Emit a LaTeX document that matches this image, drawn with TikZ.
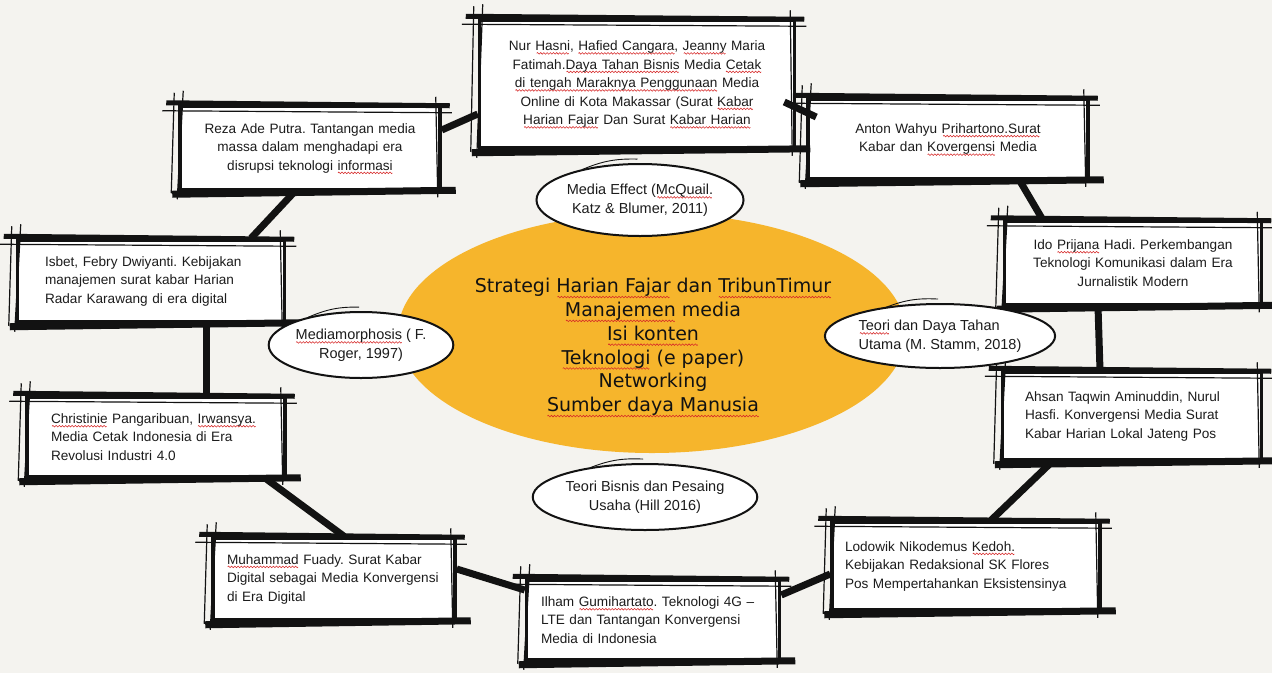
\documentclass[tikz,border=0pt]{standalone}
\usepackage{fontspec}
\setmainfont{Liberation Sans}
\newfontfamily\handfont{DejaVu Sans}
\usetikzlibrary{shapes.geometric, positioning, calc}
\definecolor{paper}{RGB}{244,243,239}
\definecolor{coreorange}{RGB}{246,181,44}
\definecolor{ink}{RGB}{18,18,18}
\definecolor{print}{RGB}{28,28,28}
\definecolor{spellred}{RGB}{215,40,40}
\frenchspacing
\newsavebox\wavebox
\newsavebox\spellword
\newcommand\spell[1]{\leavevmode\sbox\spellword{#1}\rlap{\raisebox{-0.27em}[0pt][0pt]{\hbox to \wd\spellword{\cleaders\copy\wavebox\hfill}}}\usebox\spellword}

\begin{document}
\sbox\wavebox{\begin{pgfpicture}
  \pgfpathrectangle{\pgfpoint{0pt}{-0.8pt}}{\pgfpoint{3.2pt}{1.6pt}}
  \pgfusepath{use as bounding box}
  \pgfsetstrokecolor{spellred}
  \pgfsetlinewidth{0.55pt}
  \pgfpathmoveto{\pgfpoint{0pt}{0pt}}
  \pgfpathsine{\pgfpoint{0.8pt}{0.8pt}}
  \pgfpathcosine{\pgfpoint{0.8pt}{-0.8pt}}
  \pgfpathsine{\pgfpoint{0.8pt}{-0.8pt}}
  \pgfpathcosine{\pgfpoint{0.8pt}{0.8pt}}
  \pgfusepath{stroke}
\end{pgfpicture}}
\begin{tikzpicture}[x=1pt, y=-1pt,
  refbox/.style={rectangle, draw=ink, line width=3.5pt, fill=white, inner sep=0pt,
    font=\fontsize{13.6}{18.5}\selectfont, text=print},
  theory/.style={ellipse, draw=ink, line width=2pt, fill=white, inner sep=0pt,
    font=\fontsize{14.5}{19}\selectfont, text=print},
  brush/.style={ink, line width=7pt},
  sketch/.style={ink, line width=1.2pt},
  heavy/.style={ink, line width=5pt}
]
  % paper
  \fill[paper] (0,0) rectangle (1272,673);
  \useasboundingbox (0,0) rectangle (1272,673);

  % central strategy
  \node[ellipse, fill=coreorange, minimum width=508pt, minimum height=240pt] (core) at (652,333) {};
  \node[align=center, text=ink, font=\handfont\fontsize{19}{23.8}\selectfont] (strategy) at (653,347)
    {Strategi \spell{Harian Fajar} dan \spell{TribunTimur}\\\spell{Manajemen} media\\\spell{Isi konten}\\\spell{Teknologi} (e paper)\\Networking\\\spell{Sumber daya Manusia}};

  % literature boxes
  \node[refbox, minimum width=315pt, minimum height=128pt, text width=300pt, align=center] (nur) at (637,84)
    {Nur \spell{Hasni}, \spell{Hafied Cangara}, \spell{Jeanny} Maria\\Fatimah.\spell{Daya Tahan Bisnis} Media \spell{Cetak}\\\spell{di tengah Maraknya Penggunaan} Media\\Online di Kota Makassar (Surat \spell{Kabar}\\\spell{Harian Fajar} Dan Surat \spell{Kabar Harian}};
  \node[refbox, minimum width=260pt, minimum height=83pt, text width=240pt, align=center] (reza) at (310,148)
    {Reza Ade Putra. Tantangan media\\massa dalam menghadapi era\\disrupsi teknologi \spell{informasi}};
  \node[refbox, minimum width=280pt, minimum height=80pt, text width=260pt, align=center] (anton) at (948,139)
    {Anton Wahyu \spell{Prihartono.Surat}\\Kabar dan \spell{Kovergensi} Media};
  \node[refbox, minimum width=267pt, minimum height=82pt, text width=212pt, align=left] (isbet) at (151,281)
    {Isbet, Febry Dwiyanti. Kebijakan\\manajemen surat kabar Harian\\Radar Karawang di era digital};
  \node[refbox, minimum width=257pt, minimum height=83pt, text width=240pt, align=center] (ido) at (1133,263)
    {Ido \spell{Prijana} Hadi. Perkembangan\\Teknologi Komunikasi dalam Era\\Jurnalistik Modern};
  \node[refbox, minimum width=258pt, minimum height=80pt, text width=210pt, align=left] (christinie) at (156,437)
    {\spell{Christinie} Pangaribuan, \spell{Irwansya.}\\Media Cetak Indonesia di Era\\Revolusi Industri 4.0};
  \node[refbox, minimum width=259pt, minimum height=88pt, text width=214pt, align=left] (ahsan) at (1132,416)
    {Ahsan Taqwin Aminuddin, Nurul\\Hasfi. Konvergensi Media Surat\\Kabar Harian Lokal Jateng Pos};
  \node[refbox, minimum width=242pt, minimum height=82pt, text width=214pt, align=left] (muhammad) at (334,579)
    {\spell{Muhammad} Fuady. Surat Kabar\\Digital sebagai Media Konvergensi\\di Era Digital};
  \node[refbox, minimum width=253pt, minimum height=80pt, text width=224pt, align=left] (ilham) at (653,620)
    {Ilham \spell{Gumihartato}. Teknologi 4G --\\LTE dan Tantangan Konvergensi\\Media di Indonesia};
  \node[refbox, minimum width=268pt, minimum height=88pt, text width=242pt, align=left] (lodowik) at (966,566)
    {Lodowik Nikodemus \spell{Kedoh.}\\Kebijakan Redaksional SK Flores\\Pos Mempertahankan Eksistensinya};

  % brush strokes on the boxes
  \foreach \b in {nur,reza,anton,isbet,ido,christinie,ahsan,muhammad,ilham,lodowik} {
    \draw[heavy] ([shift={(-12pt,2pt)}]\b.north west) -- ([shift={(8pt,-1pt)}]\b.north east);
    \draw[heavy, line width=7pt] ([shift={(-6pt,-3pt)}]\b.south west) -- ([shift={(14pt,1pt)}]\b.south east);
    \draw[sketch] ([shift={(5pt,14pt)}]\b.north west) -- ([shift={(-1pt,-8pt)}]\b.south west);
    \draw[sketch] ([shift={(-4pt,12pt)}]\b.north west) -- ([shift={(-7pt,-2pt)}]\b.south west);
    \draw[sketch] ([shift={(-16pt,-6pt)}]\b.north west) -- ([shift={(10pt,-8pt)}]\b.north east);
    \draw[sketch] ([shift={(-6pt,8pt)}]\b.north east) -- ([shift={(-4pt,-6pt)}]\b.south east);
  }

  % theory ovals
  \node[theory, minimum width=184pt, minimum height=72pt, align=center] (effect) at (640,200)
    {Media Effect (\spell{McQuail.}\\Katz \& Blumer, 2011)};
  \node[theory, minimum width=150pt, minimum height=66pt, align=center] (morph) at (361,345)
    {\spell{Mediamorphosis} ( F.\\Roger, 1997)};
  \node[theory, minimum width=204pt, minimum height=64pt, align=left] (stamm) at (940,336)
    {\spell{Teori} dan Daya Tahan\\Utama (M. Stamm, 2018)};
  \node[theory, minimum width=180pt, minimum height=66pt, align=center] (hill) at (645,497)
    {Teori Bisnis dan Pesaing\\Usaha (Hill 2016)};
  \foreach \o in {effect,morph,stamm,hill} {
    \draw[sketch, line width=0.9pt] ([shift={(-3pt,-1pt)}]\o.150) to[bend left=12] ([shift={(4pt,4pt)}]\o.100);
  }

  % ring of connectors
  \draw[brush] ([yshift=18pt]reza.east) -- ([yshift=-30pt]nur.west);
  \draw[brush] ([shift={(-12pt,-18pt)}]nur.east) -- ([shift={(10pt,22pt)}]anton.west);
  \draw[brush] ([xshift=-70pt]anton.south east) -- ([xshift=40pt]ido.north west);
  \draw[brush] ([xshift=-35pt]ido.south) -- ([xshift=-32pt]ahsan.north);
  \draw[brush] ([xshift=-80pt]ahsan.south) -- ([xshift=25pt]lodowik.north);
  \draw[brush] ([yshift=-8pt]lodowik.west) -- ([yshift=25pt]ilham.east);
  \draw[brush] ([yshift=30pt]ilham.west) -- ([yshift=10pt]muhammad.east);
  \draw[brush] ([xshift=10pt]muhammad.north) -- ([xshift=110pt]christinie.south);
  \draw[brush] ([xshift=50pt]christinie.north) -- ([xshift=55pt]isbet.south);
  \draw[brush] ([xshift=100pt]isbet.north) -- ([xshift=-15pt]reza.south);
\end{tikzpicture}
\end{document}
